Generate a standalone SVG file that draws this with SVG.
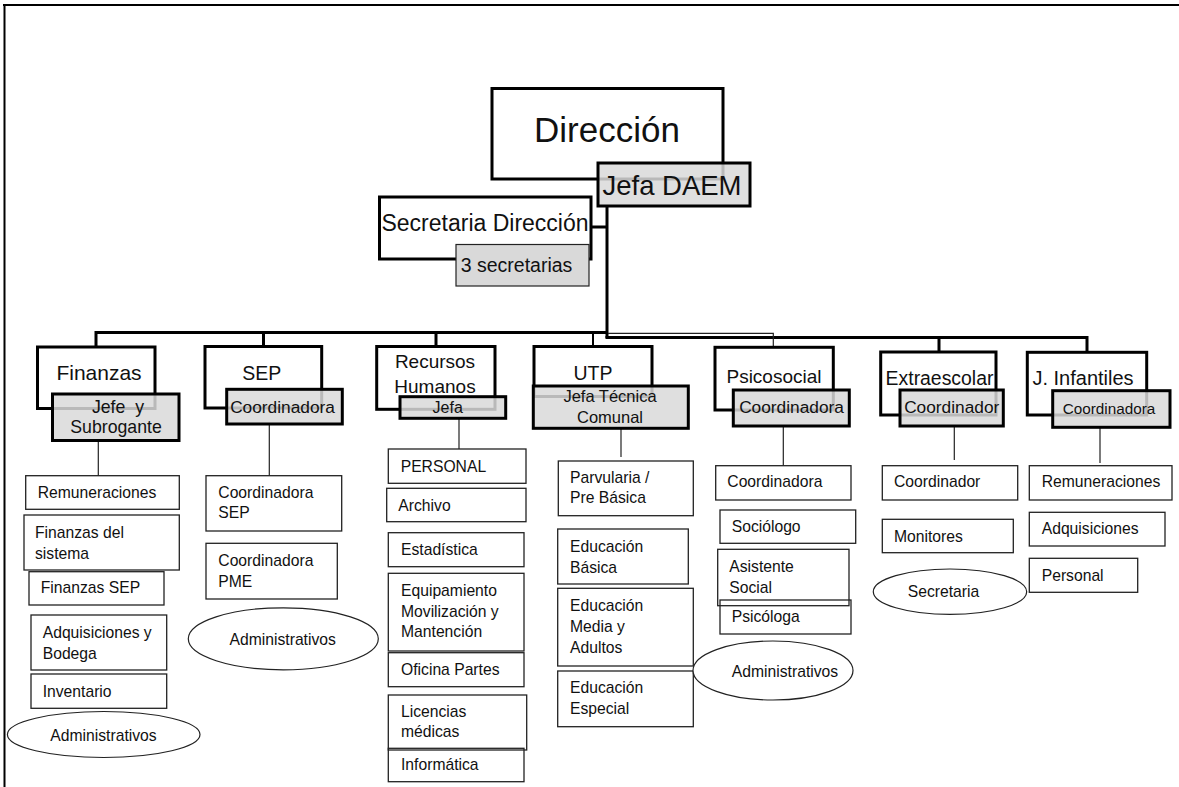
<svg xmlns="http://www.w3.org/2000/svg" width="1179" height="787" viewBox="0 0 1179 787">
  <style>
    text { font-family: "Liberation Sans", Arial, sans-serif; fill: #111; }
    .head { fill: #fff; stroke: #000; stroke-width: 3; }
    .role { fill: #d9d9d9; fill-opacity: 0.85; stroke: #000; stroke-width: 3; }
    .role-thin { fill: #d9d9d9; stroke: #222; stroke-width: 1.2; }
    .unit { fill: #fff; stroke: #222; stroke-width: 1.3; }
    .oval { fill: #fff; stroke: #222; stroke-width: 1.2; }
    .mid { text-anchor: middle; }
    .c { font-size: 15.7px; }
    .bar { fill: none; stroke: #000; stroke-width: 3; }
    .thin { fill: none; stroke: #222; stroke-width: 1.2; }
  </style>

  <!-- page frame -->
  <g id="frame" fill="none" stroke="#000" stroke-width="2">
    <line x1="3" y1="5" x2="1179" y2="5"/>
    <line x1="4.5" y1="4" x2="4.5" y2="787"/>
  </g>

  <!-- connectors -->
  <g id="connectors">
    <line class="bar" x1="607" y1="205" x2="607" y2="338"/>
    <line class="bar" x1="590" y1="227" x2="607" y2="227"/>
    <polyline class="bar" points="96,347 96,332.5 607,332.5"/>
    <line class="bar" x1="263.5" y1="332" x2="263.5" y2="347"/>
    <line class="bar" x1="436" y1="332" x2="436" y2="347"/>
    <line class="bar" x1="593" y1="332" x2="593" y2="347" style="stroke-width:2"/>
    <polyline class="bar" points="605.5,337.5 1087,337.5 1087,353"/>
    <line class="bar" x1="939" y1="337" x2="939" y2="352"/>
    <polyline class="thin" points="608,333.3 773.3,333.3 773.3,348"/>
    <!-- links from heads to their units -->
    <line class="thin" x1="98.3" y1="440" x2="98.3" y2="476"/>
    <line class="thin" x1="269.3" y1="424" x2="269.3" y2="476"/>
    <line class="thin" x1="459" y1="418" x2="459" y2="450"/>
    <line class="thin" x1="621" y1="428" x2="621" y2="457"/>
    <line class="thin" x1="783.3" y1="426" x2="783.3" y2="466"/>
    <line class="thin" x1="954.3" y1="426" x2="954.3" y2="460"/>
    <line class="thin" x1="1100" y1="427" x2="1100" y2="463"/>
  </g>

  <!-- direction -->
  <g id="direccion">
    <rect class="head" x="492" y="88.5" width="231" height="90.5"/>
    <text class="mid" x="607" y="141.5" font-size="35">Dirección</text>
  </g>
  <g id="jefa-daem">
    <rect class="role" x="598" y="163" width="152" height="43"/>
    <text class="mid" x="672" y="195" font-size="27.5">Jefa DAEM</text>
  </g>
  <g id="secretaria-direccion">
    <rect class="head" x="379.5" y="197" width="211.5" height="62"/>
    <text class="mid" x="485" y="231" font-size="23">Secretaria Dirección</text>
  </g>
  <g id="tres-secretarias">
    <rect class="role-thin" x="456" y="244.5" width="133" height="41.5"/>
    <text x="460.7" y="271.7" font-size="19.5">3 secretarias</text>
  </g>

  <!-- Finanzas -->
  <g id="finanzas">
    <rect class="head" x="37.5" y="347" width="117.5" height="61.5"/>
    <text class="mid" x="99" y="380" font-size="21">Finanzas</text>
    <rect class="role" x="52.5" y="394" width="126.5" height="46.5"/>
    <text class="mid" x="118" y="413" font-size="17.7" xml:space="preserve">Jefe  y</text>
    <text class="mid" x="116" y="433" font-size="17.7">Subrogante</text>
  </g>
  <g id="fin-remuneraciones">
    <rect class="unit" x="25.7" y="475.7" width="153.6" height="33.6"/>
    <text class="c" x="37.7" y="498.3">Remuneraciones</text>
  </g>
  <g id="fin-finanzas-sistema">
    <rect class="unit" x="24" y="515" width="155.3" height="55"/>
    <text class="c" x="35" y="538.3">Finanzas del</text>
    <text class="c" x="35" y="559.3">sistema</text>
  </g>
  <g id="fin-finanzas-sep">
    <rect class="unit" x="29" y="571.7" width="135" height="33.3"/>
    <text class="c" x="40.7" y="593.3">Finanzas SEP</text>
  </g>
  <g id="fin-adquisiciones">
    <rect class="unit" x="31" y="615" width="135.7" height="55"/>
    <text class="c" x="42.7" y="638.3">Adquisiciones y</text>
    <text class="c" x="42.7" y="659.3">Bodega</text>
  </g>
  <g id="fin-inventario">
    <rect class="unit" x="31" y="674" width="135.7" height="34.3"/>
    <text class="c" x="42.7" y="696.7">Inventario</text>
  </g>
  <g id="fin-administrativos">
    <ellipse class="oval" cx="103.7" cy="734.5" rx="96.3" ry="23"/>
    <text class="c mid" x="103.5" y="740.5">Administrativos</text>
  </g>

  <!-- SEP -->
  <g id="sep">
    <rect class="head" x="205" y="346.5" width="116.7" height="61.5"/>
    <text class="mid" x="261.7" y="380" font-size="19.5">SEP</text>
    <rect class="role" x="226.7" y="389.3" width="115.6" height="34.7"/>
    <text class="mid" x="282.5" y="412.7" font-size="17.3">Coordinadora</text>
  </g>
  <g id="sep-coordinadora">
    <rect class="unit" x="206" y="475.7" width="135.7" height="55.3"/>
    <text class="c" x="218.3" y="498.3">Coordinadora</text>
    <text class="c" x="218.3" y="518.3">SEP</text>
  </g>
  <g id="sep-pme">
    <rect class="unit" x="206" y="543.3" width="131.3" height="55.7"/>
    <text class="c" x="218.3" y="566">Coordinadora</text>
    <text class="c" x="218.3" y="586.7">PME</text>
  </g>
  <g id="sep-administrativos">
    <ellipse class="oval" cx="283.3" cy="638.8" rx="95" ry="31"/>
    <text class="c mid" x="282.7" y="644.5">Administrativos</text>
  </g>

  <!-- Recursos Humanos -->
  <g id="recursos-humanos">
    <rect class="head" x="376.7" y="346.5" width="118.3" height="62.8"/>
    <text class="mid" x="435" y="368.3" font-size="19">Recursos</text>
    <text class="mid" x="435" y="392.7" font-size="19">Humanos</text>
    <rect class="role" x="400" y="396.7" width="105.7" height="21.6"/>
    <text class="mid" x="447.7" y="413.3" font-size="16">Jefa</text>
  </g>
  <g id="rh-personal">
    <rect class="unit" x="388.3" y="449" width="137.7" height="34.3"/>
    <text class="c" x="400.7" y="471.7">PERSONAL</text>
  </g>
  <g id="rh-archivo">
    <rect class="unit" x="386.7" y="488.3" width="139.3" height="33.4"/>
    <text class="c" x="398.3" y="510.7">Archivo</text>
  </g>
  <g id="rh-estadistica">
    <rect class="unit" x="388.3" y="532.7" width="135.7" height="34"/>
    <text class="c" x="401" y="555">Estadística</text>
  </g>
  <g id="rh-equipamiento">
    <rect class="unit" x="388.3" y="573.3" width="135.7" height="77.7"/>
    <text class="c" x="401" y="596">Equipamiento</text>
    <text class="c" x="401" y="616.7">Movilización y</text>
    <text class="c" x="401" y="636.7">Mantención</text>
  </g>
  <g id="rh-oficina-partes">
    <rect class="unit" x="388.3" y="652.7" width="135.7" height="34"/>
    <text class="c" x="401" y="675">Oficina Partes</text>
  </g>
  <g id="rh-licencias">
    <rect class="unit" x="388.3" y="695" width="138.4" height="55"/>
    <text class="c" x="401" y="717.3">Licencias</text>
    <text class="c" x="401" y="736.7">médicas</text>
  </g>
  <g id="rh-informatica">
    <rect class="unit" x="388.3" y="748.3" width="135.7" height="33.4" fill-opacity="0"/>
    <text class="c" x="401" y="770">Informática</text>
  </g>

  <!-- UTP -->
  <g id="utp">
    <rect class="head" x="534" y="346.5" width="118" height="50"/>
    <text class="mid" x="593" y="380" font-size="19.5">UTP</text>
    <rect class="role" x="533.3" y="386" width="155" height="42.3"/>
    <text class="mid" x="610" y="401.7" font-size="16.5">Jefa Técnica</text>
    <text class="mid" x="610" y="422.7" font-size="16.5">Comunal</text>
  </g>
  <g id="utp-parvularia">
    <rect class="unit" x="558.3" y="461" width="135" height="54.7"/>
    <text class="c" x="570" y="482.5">Parvularia /</text>
    <text class="c" x="570" y="502.7">Pre Básica</text>
  </g>
  <g id="utp-basica">
    <rect class="unit" x="557.7" y="529" width="130.6" height="55"/>
    <text class="c" x="570" y="551.7">Educación</text>
    <text class="c" x="570" y="572.7">Básica</text>
  </g>
  <g id="utp-media">
    <rect class="unit" x="557.7" y="588.3" width="135.6" height="77.7"/>
    <text class="c" x="570" y="610.7">Educación</text>
    <text class="c" x="570" y="631.7">Media y</text>
    <text class="c" x="570" y="653.3">Adultos</text>
  </g>
  <g id="utp-especial">
    <rect class="unit" x="557.7" y="671" width="135.6" height="55.7"/>
    <text class="c" x="570" y="692.7">Educación</text>
    <text class="c" x="570" y="714">Especial</text>
  </g>

  <!-- Psicosocial -->
  <g id="psicosocial">
    <rect class="head" x="715" y="347.3" width="118.3" height="62.7"/>
    <text class="mid" x="774" y="383.3" font-size="19">Psicosocial</text>
    <rect class="role" x="733.3" y="390" width="116" height="36"/>
    <text class="mid" x="791.5" y="413.3" font-size="17.3">Coordinadora</text>
  </g>
  <g id="psi-coordinadora">
    <rect class="unit" x="715.7" y="465.7" width="135.3" height="34.3"/>
    <text class="c" x="727.3" y="487.3">Coordinadora</text>
  </g>
  <g id="psi-sociologo">
    <rect class="unit" x="720" y="510" width="135.7" height="33.3"/>
    <text class="c" x="731.7" y="531.7">Sociólogo</text>
  </g>
  <g id="psi-asistente">
    <rect class="unit" x="717.7" y="549.3" width="131.3" height="56.4"/>
    <text class="c" x="729.3" y="571.7">Asistente</text>
    <text class="c" x="729.3" y="593.3">Social</text>
  </g>
  <g id="psi-psicologa">
    <rect class="unit" x="720" y="600" width="131" height="34" fill-opacity="0"/>
    <text class="c" x="731.7" y="621.7">Psicóloga</text>
  </g>
  <g id="psi-administrativos">
    <ellipse class="oval" cx="773" cy="670.5" rx="80" ry="29.5"/>
    <text class="c mid" x="785" y="676.5">Administrativos</text>
  </g>

  <!-- Extraescolar -->
  <g id="extraescolar">
    <rect class="head" x="880.7" y="352" width="115.3" height="63"/>
    <text class="mid" x="939.5" y="385" font-size="19.4">Extraescolar</text>
    <rect class="role" x="900" y="390" width="103.3" height="36"/>
    <text class="mid" x="951.7" y="413.3" font-size="17.3">Coordinador</text>
  </g>
  <g id="ext-coordinador">
    <rect class="unit" x="882.3" y="465.7" width="135.4" height="34.3"/>
    <text class="c" x="894" y="487.3">Coordinador</text>
  </g>
  <g id="ext-monitores">
    <rect class="unit" x="882.3" y="519.3" width="131" height="33.4"/>
    <text class="c" x="894" y="541.7">Monitores</text>
  </g>
  <g id="ext-secretaria">
    <ellipse class="oval" cx="950" cy="591.7" rx="76.7" ry="22.7"/>
    <text class="c" x="907.7" y="596.7">Secretaria</text>
  </g>

  <!-- Jardines Infantiles -->
  <g id="j-infantiles">
    <rect class="head" x="1027.3" y="352.3" width="119.4" height="62.7"/>
    <text class="mid" x="1083" y="385" font-size="20">J. Infantiles</text>
    <rect class="role" x="1052.7" y="390.7" width="117.3" height="36.6"/>
    <text class="mid" x="1109" y="414.3" font-size="15.3">Coordinadora</text>
  </g>
  <g id="ji-remuneraciones">
    <rect class="unit" x="1029.3" y="465.7" width="142.7" height="34.3"/>
    <text class="c" x="1041.7" y="487.3">Remuneraciones</text>
  </g>
  <g id="ji-adquisiciones">
    <rect class="unit" x="1029.3" y="512.3" width="135.7" height="33.7"/>
    <text class="c" x="1041.7" y="534.3">Adquisiciones</text>
  </g>
  <g id="ji-personal">
    <rect class="unit" x="1029.3" y="558.3" width="108.4" height="34"/>
    <text class="c" x="1041.7" y="581">Personal</text>
  </g>
</svg>
